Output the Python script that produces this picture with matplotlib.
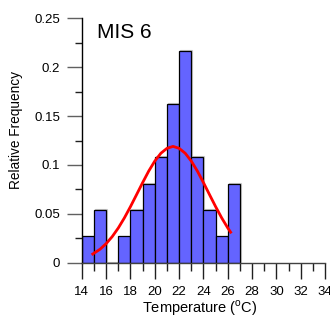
import numpy as np
import matplotlib.pyplot as plt
from matplotlib.ticker import MultipleLocator

plt.rcParams['font.family'] = ['Liberation Sans', 'DejaVu Sans']
plt.rcParams['mathtext.fontset'] = 'custom'
plt.rcParams['mathtext.rm'] = 'Liberation Sans'

# 1-degree temperature bins and relative frequency of each bin (n = 37)
bin_edges = [14, 15, 16, 17, 18, 19, 20, 21, 22, 23, 24, 25, 26, 27]
rel_freq = [0.027, 0.054, 0.0, 0.027, 0.054, 0.081, 0.108,
            0.162, 0.216, 0.108, 0.054, 0.027, 0.081]

# fitted normal curve
curve_x = [14.8, 15.5, 16, 16.5, 17, 17.5, 18, 18.5, 19, 19.5, 20, 20.5, 21,
           21.5, 22, 22.5, 23, 23.5, 24, 24.5, 25, 25.5, 26, 26.3]
curve_y = [0.0083, 0.014, 0.0197, 0.0269, 0.0357, 0.046, 0.0575, 0.0697, 0.082,
           0.0938, 0.104, 0.112, 0.117, 0.119, 0.117, 0.112, 0.104, 0.0938,
           0.082, 0.0697, 0.0575, 0.046, 0.0357, 0.0302]

fig = plt.figure(figsize=(3.3, 3.23), dpi=100)
ax = fig.add_axes([0.248, 0.186, 0.737, 0.758])

lefts = np.array(bin_edges[:-1])
widths = np.diff(bin_edges)
# faint drop shadow behind the bars
ax.bar(lefts + 0.07, rel_freq, width=widths, align='edge', bottom=0.001,
       color='none', edgecolor='#c8c8c8', linewidth=0.8, zorder=1)
ax.bar(lefts, rel_freq, width=widths, align='edge', color='#6464ff',
       edgecolor='black', linewidth=0.9, zorder=2)
ax.plot(curve_x, curve_y, color='#ff0000', linewidth=2.0, zorder=3,
        solid_capstyle='butt')

ax.set_xlim(14, 34)
ax.set_ylim(0, 0.25)
for s in ['top', 'right']:
    ax.spines[s].set_visible(False)
ax.spines['left'].set_linewidth(1.0)
ax.spines['bottom'].set_linewidth(1.0)
ax.spines['bottom'].set_color('#404040')
ax.spines['left'].set_color('black')

ax.xaxis.set_major_locator(MultipleLocator(2))
ax.xaxis.set_minor_locator(MultipleLocator(1))
ax.yaxis.set_minor_locator(MultipleLocator(0.025))
ax.set_yticks([0, 0.05, 0.1, 0.15, 0.2, 0.25])
ax.set_yticklabels(['0', '0.05', '0.1', '0.15', '0.2', '0.25'])

ax.tick_params(axis='x', which='major', direction='out', length=11.5,
               width=1.0, color='#202020', pad=5, labelsize=9.5)
ax.tick_params(axis='x', which='minor', direction='out', length=5.8,
               width=1.0, color='#202020')
ax.tick_params(axis='y', which='major', direction='out', length=10.8,
               width=1.0, color='#606060', pad=5, labelsize=9.5)
ax.tick_params(axis='y', which='minor', direction='out', length=5.0,
               width=1.0, color='#202020')

ax.set_xlabel(r'Temperature ($^{\mathrm{o}}$C)', fontsize=10.5, va='center')
ax.xaxis.set_label_coords(0.486, -0.184)
ax.set_ylabel('Relative Frequency', fontsize=9.8, va='center')
ax.yaxis.set_label_coords(-0.272, 0.543)
ax.text(0.062, 0.94, 'MIS 6', transform=ax.transAxes, fontsize=15,
        ha='left', va='center')

fig.savefig('out.png', dpi=100)
